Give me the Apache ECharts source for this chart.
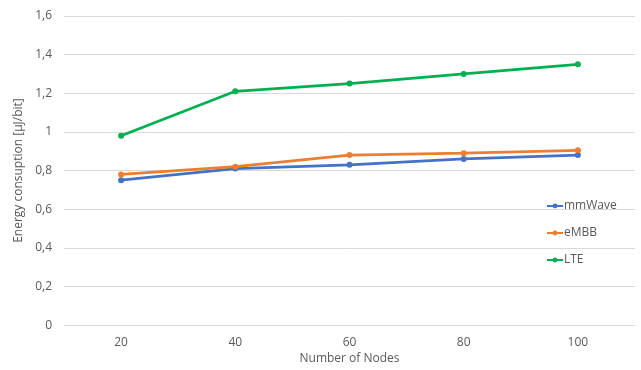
<!DOCTYPE html>
<html>
<head>
<meta charset="utf-8">
<script src="https://cdn.jsdelivr.net/npm/echarts@6/dist/echarts.min.js"></script>
<style>html,body{margin:0;padding:0;background:#fff}#c{width:641px;height:370px}</style>
</head>
<body>
<div id="c"></div>
<script>
const categories = ['20', '40', '60', '80', '100'];
const mmWave = [0.75, 0.81, 0.83, 0.86, 0.88];
const eMBB = [0.78, 0.82, 0.88, 0.89, 0.905];
const LTE = [0.98, 1.21, 1.25, 1.30, 1.35];
const yTicks = [0, 0.2, 0.4, 0.6, 0.8, 1, 1.2, 1.4, 1.6];

const chart = echarts.init(document.getElementById('c'));
const font = '"Open Sans", "Liberation Sans", sans-serif';
const txt = '#595959';
function mk(name, data, color) {
  return {
    name, type: 'line', data, color,
    symbol: 'circle', symbolSize: 6,
    lineStyle: { width: 2.75, color },
    itemStyle: { color },
    emphasis: { disabled: true }
  };
}
chart.setOption({
  animation: false,
  textStyle: { fontFamily: font },
  grid: { left: 64, right: 6, top: 16, bottom: 44, containLabel: false },
  legend: {
    orient: 'vertical', left: 541, top: 195, itemGap: 15,
    itemWidth: 16, itemHeight: 6,
    textStyle: { color: txt, fontSize: 12, fontFamily: font, padding: [0, 0, 0, -4] },
    data: ['mmWave', 'eMBB', 'LTE']
  },
  xAxis: {
    type: 'category', data: categories, boundaryGap: true,
    name: 'Number of Nodes', nameLocation: 'middle', nameGap: 27,
    nameTextStyle: { color: txt, fontSize: 12, fontFamily: font },
    axisLine: { show: true, lineStyle: { color: '#d9d9d9' } },
    axisTick: { show: false },
    axisLabel: { color: txt, fontSize: 12, margin: 11, fontFamily: font }
  },
  yAxis: {
    type: 'value', min: 0, max: 1.6, interval: 0.2,
    name: 'Energy consuption [µJ/bit]', nameLocation: 'middle', nameGap: 36,
    nameTextStyle: { color: txt, fontSize: 12, fontFamily: font },
    axisLine: { show: false }, axisTick: { show: false },
    axisLabel: {
      color: txt, fontSize: 12, margin: 12, fontFamily: font,
      formatter: v => {
        const t = yTicks.find(x => Math.abs(x - v) < 1e-6);
        return String(t !== undefined ? t : v).replace('.', ',');
      }
    },
    splitLine: { lineStyle: { color: '#d9d9d9', width: 1 } }
  },
  series: [
    mk('mmWave', mmWave, '#4472C4'),
    mk('eMBB', eMBB, '#ED7D31'),
    mk('LTE', LTE, '#00B050')
  ]
});
</script>
</body>
</html>
